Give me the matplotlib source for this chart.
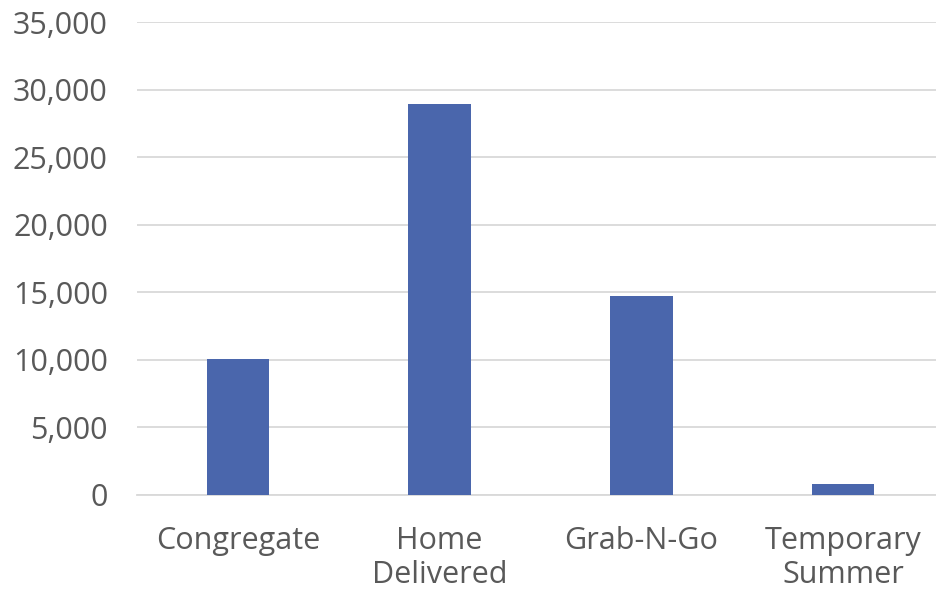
import matplotlib
matplotlib.use("Agg")
import matplotlib.pyplot as plt
from matplotlib.ticker import FuncFormatter

# --- data
categories = ["Congregate", "Home\nDelivered", "Grab-N-Go", "Temporary\nSummer"]
meals = [10100, 28900, 14700, 800]
y_ticks = [0, 5000, 10000, 15000, 20000, 25000, 30000, 35000]

plt.rcParams["font.family"] = ["Open Sans", "DejaVu Sans"]

fig = plt.figure(figsize=(9.36, 5.9), dpi=100)
ax = fig.add_axes([137 / 936, 95 / 590, 1 - 137 / 936, 473 / 590])

x = list(range(len(categories)))
ax.bar(x, meals, width=0.31, color="#4A66AC", zorder=3)

ax.set_ylim(0, 35000)
ax.set_xlim(-0.5, 3.46)
ax.set_yticks(y_ticks)
ax.yaxis.set_major_formatter(FuncFormatter(lambda v, _: f"{int(v):,}"))
ax.set_xticks(x)
ax.set_xticklabels(categories, linespacing=1.18)

ax.grid(axis="y", color="#D9D9D9", linewidth=1.3, zorder=0)
for s in ["top", "right", "left"]:
    ax.spines[s].set_visible(False)
ax.spines["bottom"].set_color("#D9D9D9")
ax.spines["bottom"].set_linewidth(1.3)

ax.tick_params(axis="both", length=0, labelsize=22, colors="#595959")
ax.tick_params(axis="y", pad=21)
ax.tick_params(axis="x", pad=22)

fig.savefig("out.png", dpi=100)
